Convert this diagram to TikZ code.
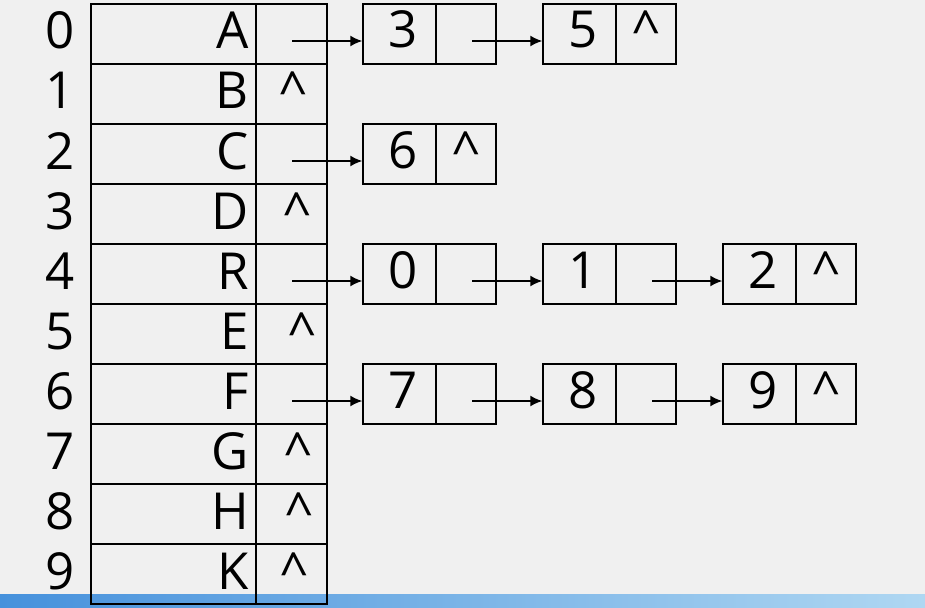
\documentclass[tikz,border=0pt]{standalone}
\usepackage{fontspec}
\setmainfont{Open Sans}
\usetikzlibrary{arrows.meta,calc}
\definecolor{bgc}{RGB}{240,240,240}
\definecolor{barL}{RGB}{70,145,220}
\definecolor{barR}{RGB}{175,215,242}
\tikzset{
  cell/.style={draw=black, line width=1.5pt, inner sep=0pt, minimum height=60pt},
  txt/.style={font=\fontsize{51}{54}\selectfont, inner sep=0pt, anchor=base},
  txtr/.style={txt, anchor=base east},
  link/.style={line width=1.5pt, -{Latex[length=12pt,width=11pt]}}
}
\begin{document}
\begin{tikzpicture}[x=1pt,y=-1pt]
\useasboundingbox (0,0) rectangle (925,607);
\fill[bgc] (0,0) rectangle (925,607);
\shade[left color=barL, right color=barR] (0,594) rectangle (925,607);
% hash table
\foreach \i/\k/\c in {0/A/,1/B/293,2/C/,3/D/297,4/R/,5/E/302,6/F/,7/G/298,8/H/299,9/K/294}{
  \pgfmathsetmacro{\t}{4+60*\i}
  \node[cell, minimum width=165pt] (key\i) at (173.5,\t+30) {};
  \node[cell, minimum width=71pt] (ptr\i) at (291.5,\t+30) {};
  \node[txt] (idx\i) at (60,\t+45) {\i};
  \node[txtr] (let\i) at (249,\t+45) {\k};
  \ifx\c\empty\else
    \node[txt] (nil\i) at (\c,\t+45) {\textasciicircum};
  \fi
}
% list nodes: row, column, value, last?
\foreach \r/\col/\v/\last in {0/1/3/0,0/2/5/1,2/1/6/1,4/1/0/0,4/2/1/0,4/3/2/1,6/1/7/0,6/2/8/0,6/3/9/1}{
  \pgfmathsetmacro{\t}{4+60*\r}
  \pgfmathsetmacro{\xl}{363+180*(\col-1)}
  \node[cell, minimum width=73pt] (v\r\col) at (\xl+36.5,\t+30) {};
  \node[cell, minimum width=60pt] (p\r\col) at (\xl+103,\t+30) {};
  \node[txtr] (vt\r\col) at (\xl+55,\t+44) {\v};
  \ifnum\last=1
    \node[txt] (pn\r\col) at (\xl+103,\t+44) {\textasciicircum};
  \fi
}
% links from table
\foreach \r in {0,2,4,6}{
  \pgfmathsetmacro{\t}{4+60*\r}
  \coordinate (s\r) at (292,\t+37);
  \draw[link] (s\r) -- (s\r -| v\r1.west);
}
% links between list nodes
\foreach \r/\a/\b in {0/1/2,4/1/2,4/2/3,6/1/2,6/2/3}{
  \pgfmathsetmacro{\t}{4+60*\r}
  \pgfmathsetmacro{\xs}{472+180*(\a-1)}
  \coordinate (q\r\a) at (\xs,\t+37);
  \draw[link] (q\r\a) -- (q\r\a -| v\r\b.west);
}
\end{tikzpicture}
\end{document}
